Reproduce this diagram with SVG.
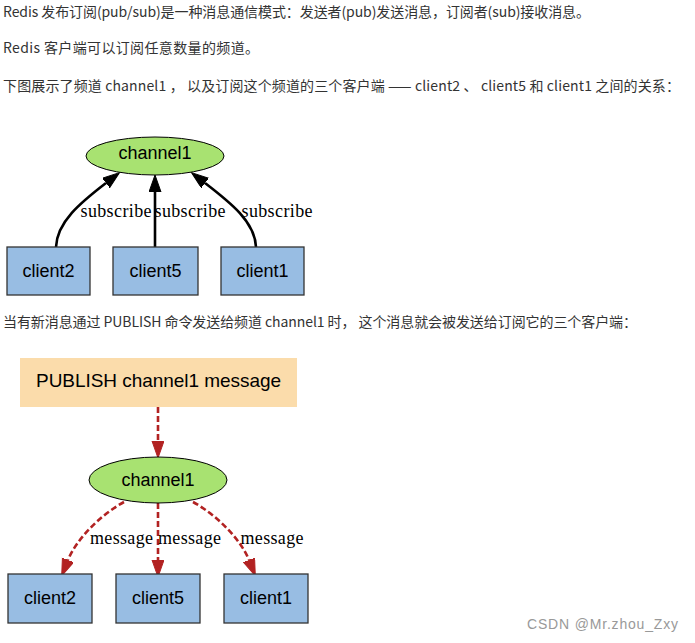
<svg xmlns="http://www.w3.org/2000/svg" width="695" height="643" viewBox="0 0 695 643">
<style>
.body{font-family:"Noto Sans CJK SC","Microsoft YaHei",sans-serif;font-size:14px;fill:#333}
.node{font-family:"Liberation Sans",Arial,sans-serif;font-size:18px;fill:#000;text-anchor:middle}
.lbl{font-family:"Liberation Serif","Times New Roman",serif;font-size:18px;fill:#000;text-anchor:middle}
.ell{fill:#a8e271;stroke:#000;stroke-width:1}
.box{fill:#98bde3;stroke:#333;stroke-width:1.3}
.sub{fill:none;stroke:#000;stroke-width:2.6}
.msg{fill:none;stroke:#b22222;stroke-width:2.6;stroke-dasharray:6,3}
.wm{font-family:"Liberation Sans",Arial,sans-serif;font-size:14px;fill:#999}
</style>
<defs>
<marker id="ab" markerUnits="userSpaceOnUse" markerWidth="20" markerHeight="14" refX="0" refY="6" orient="auto" viewBox="0 0 20 14">
<path d="M0,0 L17,6 L0,12 z" fill="#000" stroke="#000" stroke-width="1"/>
</marker>
<marker id="ar" markerUnits="userSpaceOnUse" markerWidth="20" markerHeight="14" refX="0" refY="6" orient="auto" viewBox="0 0 20 14">
<path d="M0,0 L17,6 L0,12 z" fill="#b22222" stroke="#b22222" stroke-width="1"/>
</marker>
</defs>
<rect width="695" height="643" fill="#fff"/>
<g id="text">
<text class="body" x="3" y="17" textLength="587">Redis 发布订阅(pub/sub)是一种消息通信模式：发送者(pub)发送消息，订阅者(sub)接收消息。</text>
<text class="body" x="3" y="53" textLength="256">Redis 客户端可以订阅任意数量的频道。</text>
<text class="body" x="3" y="91" textLength="677">下图展示了频道 channel1 ， 以及订阅这个频道的三个客户端 —— client2 、 client5 和 client1 之间的关系：</text>
<text class="body" x="3" y="327" textLength="634">当有新消息通过 PUBLISH 命令发送给频道 channel1 时， 这个消息就会被发送给订阅它的三个客户端：</text>
<text class="wm" x="527" y="629" textLength="151">CSDN @Mr.zhou_Zxy</text>
</g>
<g id="connectors">
<path class="sub" d="M56,247 C57,222 80,203 106,183" marker-end="url(#ab)"/>
<path class="sub" d="M155,247 L155,192" marker-end="url(#ab)"/>
<path class="sub" d="M256,247 C255,222 231,203 205,183" marker-end="url(#ab)"/>
<text class="lbl" x="116" y="217" textLength="71">subscribe</text>
<text class="lbl" x="190" y="217" textLength="71">subscribe</text>
<text class="lbl" x="277" y="217" textLength="71">subscribe</text>
<path class="msg" d="M158,407 L158,441" marker-end="url(#ar)"/>
<path class="msg" d="M124,502 C100,515 76,540 68,560" marker-end="url(#ar)"/>
<path class="msg" d="M158,503 L158,560" marker-end="url(#ar)"/>
<path class="msg" d="M193,502 C217,515 241,540 249,560" marker-end="url(#ar)"/>
<text class="lbl" x="121.5" y="544" textLength="63">message</text>
<text class="lbl" x="189.5" y="544" textLength="63">message</text>
<text class="lbl" x="272" y="544" textLength="63">message</text>
</g>
<g id="channel1-top">
<ellipse class="ell" cx="155" cy="156" rx="69" ry="19"/>
<text class="node" x="155" y="159">channel1</text>
</g>
<g id="client2-top">
<rect class="box" x="7" y="247" width="83" height="48"/>
<text class="node" x="48.5" y="277">client2</text>
</g>
<g id="client5-top">
<rect class="box" x="113" y="247" width="85" height="48"/>
<text class="node" x="155.5" y="277">client5</text>
</g>
<g id="client1-top">
<rect class="box" x="221" y="247" width="83" height="48"/>
<text class="node" x="262.5" y="277">client1</text>
</g>
<g id="publish">
<rect x="20" y="358" width="277" height="49" fill="#fbdcab"/>
<text class="node" x="158.5" y="387" style="font-size:19px" textLength="245">PUBLISH channel1 message</text>
</g>
<g id="channel1-bottom">
<ellipse class="ell" cx="158" cy="480" rx="69" ry="23"/>
<text class="node" x="158" y="486">channel1</text>
</g>
<g id="client2-bottom">
<rect class="box" x="8" y="574" width="84" height="49"/>
<text class="node" x="50" y="604">client2</text>
</g>
<g id="client5-bottom">
<rect class="box" x="116" y="574" width="84" height="49"/>
<text class="node" x="158" y="604">client5</text>
</g>
<g id="client1-bottom">
<rect class="box" x="224" y="574" width="84" height="49"/>
<text class="node" x="266" y="604">client1</text>
</g>
</svg>
